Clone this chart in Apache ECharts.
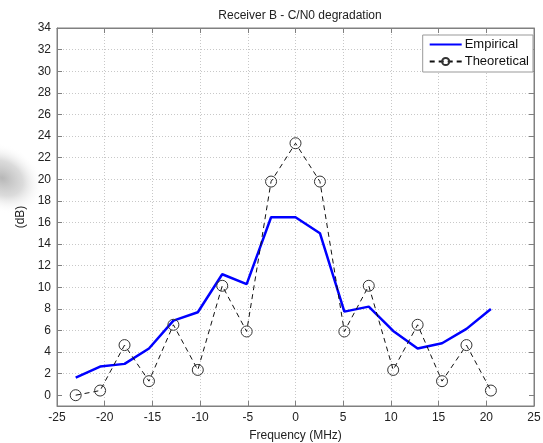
<!DOCTYPE html>
<html>
<head>
<meta charset="utf-8">
<script src="https://cdn.jsdelivr.net/npm/echarts@6/dist/echarts.min.js"></script>
<style>html,body{margin:0;padding:0;background:#fff;}#c{width:543px;height:443px;}</style>
</head>
<body>
<div id="c"></div>
<script>
const freq = [-23.04, -20.48, -17.92, -15.36, -12.8, -10.24, -7.68, -5.12, -2.56, 0, 2.56, 5.12, 7.68, 10.24, 12.8, 15.36, 17.92, 20.48];
const empirical = [1.63, 2.65, 2.9, 4.32, 6.91, 7.68, 11.2, 10.28, 16.48, 16.48, 15.0, 7.74, 8.2, 5.95, 4.32, 4.81, 6.14, 7.99];
const theoretical = [0, 0.43, 4.64, 1.3, 6.52, 2.34, 10.13, 5.9, 19.78, 23.33, 19.78, 5.9, 10.13, 2.34, 6.52, 1.3, 4.64, 0.43];
const yTicks = [0, 2, 4, 6, 8, 10, 12, 14, 16, 18, 20, 22, 24, 26, 28, 30, 32, 34];
const seriesNames = ['Empirical', 'Theoretical'];

const FONT = 'Liberation Sans';
const chart = echarts.init(document.getElementById('c'));
const pairs = (ys) => freq.map((x, i) => [x, ys[i]]);
const axisGray = '#808080';
const gridLine = {show: true, lineStyle: {color: '#c8c8c8', type: [1, 2], width: 1}};

chart.setOption({
  animation: false,
  backgroundColor: '#fff',
  textStyle: {fontFamily: FONT},
  graphic: [{
    type: 'circle', silent: true, z: -10,
    x: 2, y: 178, rotation: -0.5, scaleX: 1.0, scaleY: 0.75,
    shape: {cx: 0, cy: 0, r: 44},
    style: {
      fill: new echarts.graphic.RadialGradient(0.5, 0.5, 0.5, [
        {offset: 0, color: 'rgba(175,175,175,0.9)'},
        {offset: 0.5, color: 'rgba(195,195,195,0.6)'},
        {offset: 1, color: 'rgba(255,255,255,0)'}
      ])
    }
  }],
  title: {
    text: 'Receiver B - C/N0 degradation',
    left: 295, top: 5, textAlign: 'center',
    textStyle: {fontFamily: FONT, fontSize: 12, fontWeight: 'normal', color: '#222'}
  },
  grid: {left: 57, right: 9, top: 28, bottom: 37, show: true, borderColor: axisGray, borderWidth: 1,
         outerBoundsMode: 'none', containLabel: false},
  legend: {
    data: [
      {name: 'Empirical', itemStyle: {opacity: 0}},
      {name: 'Theoretical'}
    ],
    orient: 'vertical',
    right: 10, top: 35,
    backgroundColor: '#fff',
    borderColor: '#999', borderWidth: 1,
    padding: [3, 4, 4, 6],
    itemGap: 4, itemWidth: 32, itemHeight: 9,
    textStyle: {fontFamily: FONT, fontSize: 13, color: '#111', padding: [0, 0, 0, -2]}
  },
  xAxis: [{
    type: 'value', min: -25, max: 25, interval: 5,
    name: 'Frequency (MHz)', nameLocation: 'middle', nameGap: 24,
    nameTextStyle: {fontFamily: FONT, fontSize: 12, color: '#222'},
    axisLine: {show: true, onZero: false, lineStyle: {color: axisGray}},
    axisTick: {show: true, inside: true, length: 5, lineStyle: {color: axisGray}},
    axisLabel: {fontFamily: FONT, fontSize: 12, color: '#222', margin: 6},
    splitLine: gridLine
  }, {
    type: 'value', min: -25, max: 25, interval: 5, position: 'top',
    axisLine: {show: true, onZero: false, lineStyle: {color: axisGray}},
    axisTick: {show: true, inside: true, length: 5, lineStyle: {color: axisGray}},
    axisLabel: {show: false}, splitLine: {show: false}
  }],
  yAxis: [{
    type: 'value', min: -1, max: 34,
    name: '(dB)', nameLocation: 'middle', nameGap: 22, nameRotate: 90,
    nameTextStyle: {fontFamily: FONT, fontSize: 12, color: '#222'},
    axisLine: {show: true, onZero: false, lineStyle: {color: axisGray}},
    axisTick: {show: true, inside: true, length: 5, customValues: yTicks, lineStyle: {color: axisGray}},
    axisLabel: {fontFamily: FONT, fontSize: 12, color: '#222', margin: 6, customValues: yTicks},
    splitLine: {show: false}
  }, {
    type: 'value', min: -1, max: 34, position: 'right',
    axisLine: {show: true, onZero: false, lineStyle: {color: axisGray}},
    axisTick: {show: true, inside: true, length: 5, customValues: yTicks, lineStyle: {color: axisGray}},
    axisLabel: {show: false, customValues: yTicks}, splitLine: {show: false}
  }],
  series: [{
    name: 'Empirical', type: 'line', data: pairs(empirical),
    symbol: 'none', z: 3,
    lineStyle: {color: '#0000ff', width: 2.5},
    itemStyle: {color: '#0000ff'},
    markLine: {
      silent: true, symbol: 'none', label: {show: false},
      lineStyle: {color: '#c8c8c8', type: [1, 2], width: 1},
      data: yTicks.filter(v => v > 0 && v < 34).map(v => ({yAxis: v})),
      z: 0
    }
  }, {
    name: 'Theoretical', type: 'line', data: pairs(theoretical),
    symbol: 'circle', symbolSize: 11, z: 4,
    lineStyle: {color: '#111', width: 1, type: [5, 4]},
    itemStyle: {color: 'rgba(255,255,255,0)', borderColor: '#333', borderWidth: 1}
  }]
});
</script>
</body>
</html>
